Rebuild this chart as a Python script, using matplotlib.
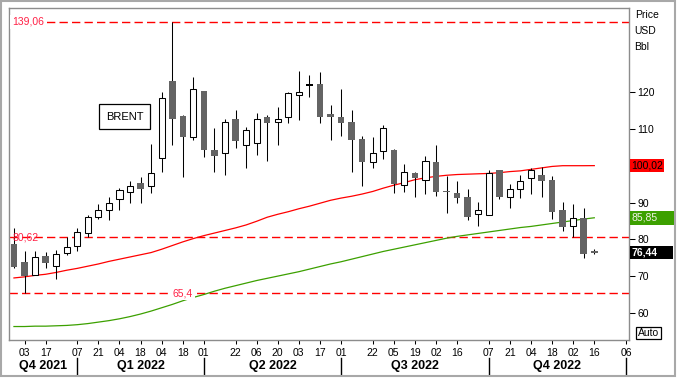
import numpy as np
import matplotlib
matplotlib.use("Agg")
import matplotlib.pyplot as plt
from matplotlib import transforms
from matplotlib.patches import Rectangle

plt.rcParams['font.family'] = ['Liberation Sans', 'DejaVu Sans']

# ---------------- data ----------------
opens = [78.7, 73.75, 70.4, 75.5, 72.7, 76.2, 78.2, 81.8, 86.1, 87.9,
         90.9, 92.8, 95.2, 94.4, 102.0, 123.0, 113.5, 107.7, 120.3, 104.2,
         103.4, 112.7, 105.6, 106.3, 113.2, 111.8, 113.2, 119.3, 121.9, 122.2,
         114.0, 113.2, 111.9, 107.3, 100.9, 104.0, 104.3, 94.7, 98.0, 96.0,
         101.0, 93.0, 92.6, 91.5, 86.8, 86.5, 98.8, 91.6, 93.6, 96.6,
         97.5, 96.1, 88.0, 83.5, 85.8, 76.6]
highs = [83.0, 76.9, 76.8, 76.6, 77.1, 80.5, 83.2, 86.6, 89.5, 91.6,
         93.9, 95.8, 97.0, 105.8, 120.0, 139.06, 113.7, 124.1, 120.3, 110.2,
         112.6, 115.1, 110.5, 114.2, 113.7, 115.9, 120.0, 125.7, 124.6, 125.5,
         116.5, 120.8, 115.1, 108.0, 107.8, 111.1, 104.5, 100.4, 98.2, 102.6,
         105.5, 97.3, 95.8, 93.6, 90.1, 98.8, 98.8, 95.0, 97.5, 99.3,
         99.6, 97.2, 90.1, 89.6, 88.5, 77.4]
lows = [72.1, 65.4, 70.2, 72.3, 69.1, 75.7, 76.9, 80.7, 85.6, 85.2,
        88.0, 90.0, 90.0, 92.7, 98.4, 105.7, 96.9, 107.1, 102.4, 98.4,
        97.6, 104.7, 99.5, 103.0, 101.3, 105.7, 111.7, 112.5, 118.7, 111.7,
        107.0, 108.1, 98.4, 94.6, 99.5, 101.7, 92.7, 92.9, 91.6, 92.3,
        91.8, 87.2, 89.9, 85.3, 83.7, 86.5, 91.0, 88.6, 91.3, 92.4,
        91.6, 85.5, 82.3, 80.5, 75.0, 76.1]
closes = [72.6, 70.0, 75.1, 73.5, 76.1, 77.9, 81.9, 86.0, 88.0, 90.0,
          93.4, 94.4, 93.6, 97.9, 118.3, 112.8, 107.9, 120.8, 104.3, 102.7,
          111.8, 106.8, 109.6, 112.6, 111.7, 112.6, 119.7, 119.9, 121.9, 113.3,
          113.3, 111.7, 107.1, 101.1, 103.4, 110.2, 95.0, 98.2, 96.7, 101.2,
          92.9, 92.9, 91.3, 86.1, 87.9, 97.9, 91.6, 93.6, 95.8, 98.7,
          95.9, 87.5, 83.4, 85.7, 76.1, 76.44]

ma_red = [69.5, 69.8, 70.2, 70.5, 71.0, 71.6, 72.1, 72.7, 73.3, 74.0,
          74.6, 75.2, 75.8, 76.4, 77.3, 78.3, 79.3, 80.2, 81.0, 81.7,
          82.4, 83.1, 83.9, 84.9, 86.0, 86.8, 87.5, 88.3, 89.0, 89.8,
          90.6, 91.2, 91.7, 92.3, 93.0, 93.9, 94.7, 95.4, 96.2, 96.7,
          97.1, 97.4, 97.6, 97.7, 97.8, 97.9, 98.1, 98.4, 98.6, 99.0,
          99.4, 99.8, 100.0, 100.0, 100.0, 100.02]
ma_green = [56.3, 56.3, 56.4, 56.4, 56.5, 56.6, 56.8, 57.1, 57.5, 57.9,
            58.4, 59.0, 59.7, 60.5, 61.4, 62.3, 63.3, 64.2, 65.0, 65.9,
            66.7, 67.4, 68.1, 68.8, 69.4, 70.0, 70.6, 71.2, 71.9, 72.6,
            73.3, 73.9, 74.6, 75.3, 76.0, 76.7, 77.3, 77.9, 78.5, 79.1,
            79.7, 80.3, 80.8, 81.2, 81.6, 82.0, 82.4, 82.8, 83.2, 83.5,
            83.9, 84.3, 84.7, 85.1, 85.5, 85.85]

tick_idx = [1, 3, 6, 8, 10, 12, 14, 16, 18, 21, 23, 25, 27, 29, 31, 34, 36,
            38, 40, 42, 45, 47, 49, 51, 53, 55, 58]
tick_labels = ['03', '17', '07', '21', '04', '18', '04', '18', '01', '22', '06',
               '20', '03', '17', '01', '22', '05', '19', '02', '16', '07', '21',
               '04', '18', '02', '16', '06']
quarter_bounds = [6, 18, 31, 45, 58]
quarter_labels = ['Q4 2021', 'Q1 2022', 'Q2 2022', 'Q3 2022', 'Q4 2022']

levels = [139.06, 80.62, 65.4]
level_labels = ['139,06', '80,62', '65,4']
last_values = [100.02, 85.85, 76.44]
last_labels = ['100,02', '85,85', '76,44']
y_ticks = [60, 70, 80, 90, 100, 110, 120]
y_tick_labels = ['60', '70', '80', '90', '', '110', '120']  # 100 hidden under the red box

# ---------------- figure ----------------
W, H = 677, 378
fig = plt.figure(figsize=(W / 100, H / 100), dpi=100)
fig.patch.set_facecolor('white')


def fx(x):
    return x / W


def fy(y):
    return 1 - y / H


ax = fig.add_axes([fx(9), fy(340), fx(620), 332 / H])
XMIN, XMAX = -0.47, 58.29
YMIN, YMAX = 52.64, 142.85
ax.set_xlim(XMIN, XMAX)
ax.set_ylim(YMIN, YMAX)
for s in ax.spines.values():
    s.set_color('#8c8c8c')
    s.set_linewidth(1.0)

LW = 0.75
GRAY = '#646464'
n = len(opens)
idx = np.arange(n)

# moving averages
ax.plot(idx, ma_red, color='#ff0000', lw=0.9, zorder=2)
ax.plot(idx, ma_green, color='#3ca000', lw=0.9, zorder=2)

# horizontal levels
for lv in levels:
    ax.axhline(lv, color='#ff0000', lw=1.0, linestyle=(0, (6, 3)), zorder=1)

# candles
for i in range(n):
    o, h, l, c = opens[i], highs[i], lows[i], closes[i]
    ax.vlines(i, l, h, color='black', lw=LW, zorder=3)
    bot = min(o, c)
    ht = abs(c - o)
    if c > o:
        ax.bar(i, max(ht, 0.3), bottom=bot, width=0.58, facecolor='white',
               edgecolor='black', linewidth=LW, zorder=4)
    elif c < o:
        hh = max(ht, 0.45)
        ax.bar(i, hh, bottom=bot - (hh - ht) / 2, width=0.62, facecolor=GRAY,
               edgecolor='none', zorder=4)
    else:
        ax.bar(i, 0.5, bottom=o - 0.25, width=0.62, facecolor='black',
               edgecolor='none', zorder=4)

# level labels
lab_col = '#ff2045'
tl = transforms.blended_transform_factory(ax.transAxes, ax.transData)
ax.text(0.005, levels[0], level_labels[0], transform=tl,
        color=lab_col, fontsize=7.5, va='center', ha='left', zorder=6,
        bbox=dict(facecolor='white', edgecolor='none', pad=1.5))
ax.text(0.005, levels[1], level_labels[1], transform=tl,
        color=lab_col, fontsize=7.5, va='center', ha='left', zorder=6)
ax.text(16.0, levels[2], level_labels[2], color=lab_col, fontsize=7.5, va='center',
        ha='center', zorder=6, bbox=dict(facecolor='white', edgecolor='none', pad=1.5))

# x axis
ax.set_xticks(tick_idx)
ax.set_xticklabels(tick_labels, fontsize=7.5)
ax.tick_params(axis='x', length=3, width=LW, color='black', pad=2.5)

# quarter labels and separators
bounds = [XMIN] + quarter_bounds
trans_q = transforms.blended_transform_factory(ax.transData, fig.transFigure)
for k, q in enumerate(quarter_labels):
    xc = (bounds[k] + bounds[k + 1]) / 2
    ax.text(xc, fy(366.5), q, transform=trans_q, ha='center', va='center',
            fontsize=9, fontweight='bold', clip_on=False)
for b in quarter_bounds:
    ax.plot([b, b], [fy(358), fy(375)], transform=trans_q, color='black',
            lw=1.0, clip_on=False)

# y axis on right
ax.yaxis.tick_right()
ax.set_yticks(y_ticks)
ax.set_yticklabels(y_tick_labels, fontsize=7.5)
ax.tick_params(axis='y', length=4, width=LW, color='black', pad=2)

fig.text(fx(635.5), fy(15), 'Price', fontsize=7.5, va='center', ha='left')
fig.text(fx(634.5), fy(31), 'USD', fontsize=7.5, va='center', ha='left')
fig.text(fx(634.5), fy(47), 'Bbl', fontsize=7.5, va='center', ha='left')

# last value boxes
trans_v = transforms.blended_transform_factory(fig.transFigure, ax.transData)
box_specs = [('#ff0000', 'black', 34, 'normal'),
             ('#3ca000', '#f4f4e8', 44, 'normal'),
             ('black', 'white', 43, 'bold')]
half = 6.8 / 3.68
for v, lab, (bg, fg, wpx, fw) in zip(last_values, last_labels, box_specs):
    r = Rectangle((fx(630), v - half), wpx / W, 2 * half, transform=trans_v,
                  facecolor=bg, edgecolor='none', clip_on=False, zorder=5)
    fig.add_artist(r)
    fig.text(fx(631.5), v, lab, transform=trans_v, color=fg, fontsize=7.5,
             fontweight=fw, va='center', ha='left', zorder=6)

# Auto box
fig.add_artist(Rectangle((fx(636), fy(338.5)), 24.5 / W, 11.5 / H,
                         transform=fig.transFigure, facecolor='white',
                         edgecolor='black', lw=0.9))
fig.text(fx(648.3), fy(332.5), 'Auto', fontsize=7.5, ha='center', va='center')

# BRENT box
fig.add_artist(Rectangle((fx(99), fy(129)), 51 / W, 25 / H,
                         transform=fig.transFigure, facecolor='white',
                         edgecolor='black', lw=0.9, zorder=7))
fig.text(fx(124.5), fy(116.5), 'BRENT', fontsize=8, ha='center', va='center',
         zorder=8)

# outer frame
fig.add_artist(Rectangle((0.001, 0.004), 0.996, 0.994, transform=fig.transFigure,
                         facecolor='none', edgecolor='#a8a8a8', lw=1.5))

fig.savefig('out.png', dpi=100)
